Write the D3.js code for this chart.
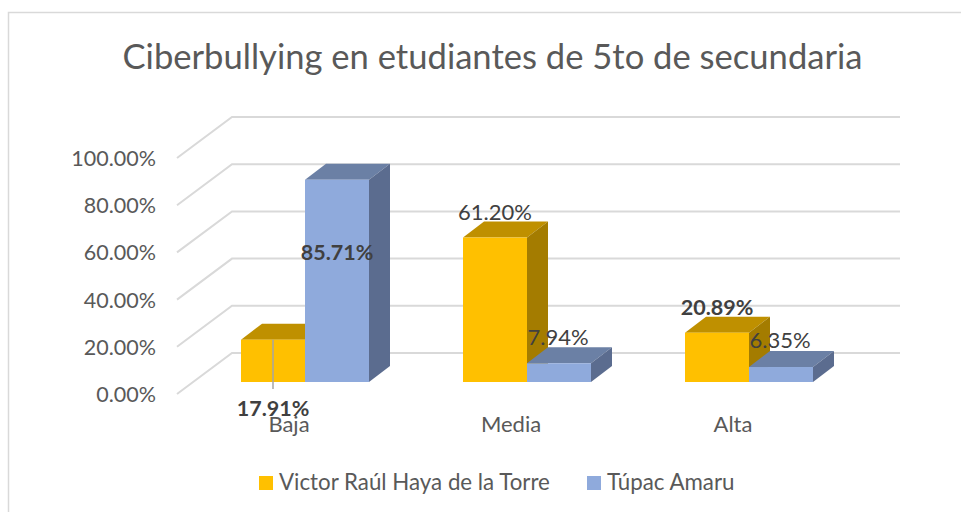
<!DOCTYPE html>
<html><head><meta charset="utf-8">
<script src="https://cdn.jsdelivr.net/npm/d3@7/dist/d3.min.js"></script>
<style>html,body{margin:0;padding:0;background:#fff}svg{display:block}text{font-family:Lato,"Open Sans",sans-serif}</style>
</head><body><svg id="c" width="961" height="512"></svg>
<script>
const titleText = "Ciberbullying en etudiantes de 5to de secundaria";
const categories = ["Baja","Media","Alta"];
const seriesNames = ["Victor Raúl Haya de la Torre","Túpac Amaru"];
const victorValues = [17.91,61.20,20.89];
const tupacValues = [85.71,7.94,6.35];
const tickValues = [0,20,40,60,80,100];
const boldLabels = [["Victor Raúl Haya de la Torre","Baja"],["Victor Raúl Haya de la Torre","Alta"],["Túpac Amaru","Baja"]];

const svg = d3.select("#c");
const INK="#595959", LABEL="#404040", GRID="#d9d9d9";
const colors = {
  [seriesNames[0]]:{front:"#FFC000",top:"#BF9000",side:"#A47C00"},
  [seriesNames[1]]:{front:"#8FAADC",top:"#6B80A5",side:"#5B6C8F"}
};
const floorY=382, depthX=21, depthY=16;
const y = d3.scaleLinear().domain([0,100]).range([floorY,floorY-236]);
const x0 = d3.scaleBand().domain(categories).range([194,860]);
const x1 = d3.scaleBand().domain(seriesNames).range([47,175]);

// chart frame
svg.append("path").attr("d","M8.5,512V12.5H961").attr("fill","none").attr("stroke",GRID).attr("stroke-width",1.5);

svg.append("text").attr("x",492.5).attr("y",69).attr("text-anchor","middle").attr("font-size",34.5)
  .attr("fill",INK).attr("textLength",740).attr("lengthAdjust","spacingAndGlyphs").text(titleText);

// walls: back gridlines and left-wall diagonals
const wallX=177, backX=232, rightX=900, frontDrop=12, backRise=29;
tickValues.forEach(t=>{
  const yb=y(t)-backRise, yf=y(t)+frontDrop;
  svg.append("path").attr("d",`M${wallX},${yf}L${backX},${yb}H${rightX}`)
    .attr("fill","none").attr("stroke",GRID).attr("stroke-width",2);
  svg.append("text").attr("x",156).attr("y",yf+8).attr("text-anchor","end").attr("font-size",21.5)
    .attr("fill",INK).text(d3.format(".2f")(t)+"%");
});

// bars
const rows = categories.flatMap((c,i)=>[
  {c,s:seriesNames[0],v:victorValues[i]},
  {c,s:seriesNames[1],v:tupacValues[i]}
]);
rows.forEach(r=>{
  const l=x0(r.c)+x1(r.s), w=x1.bandwidth(), t=y(r.v), b=y(0), col=colors[r.s];
  const g=svg.append("g");
  g.append("path").attr("fill",col.top).attr("d",`M${l},${t}l${depthX},${-depthY}h${w}l${-depthX},${depthY}z`);
  g.append("path").attr("fill",col.side).attr("d",`M${l+w},${t}l${depthX},${-depthY}V${b-depthY}l${-depthX},${depthY}z`);
  g.append("rect").attr("x",l).attr("y",t).attr("width",w).attr("height",b-t).attr("fill",col.front);
});

// leader line for Baja / Victor
{
  const r=rows[0], cx=x0(r.c)+x1(r.s)+x1.bandwidth()/2;
  svg.append("line").attr("x1",cx).attr("x2",cx).attr("y1",y(r.v)).attr("y2",floorY+7)
    .attr("stroke","#a6a6a6").attr("stroke-width",1.5);
}

// manual data-label placement, relative to each bar's front-face centre / top
function labelPos(r){
  const cx=x0(r.c)+x1(r.s)+x1.bandwidth()/2, t=y(r.v);
  const k=r.c+"|"+seriesNames.indexOf(r.s);
  switch(k){
    case "Baja|0": return [cx,floorY+34];
    case "Baja|1": return [cx,t+80];
    case "Media|0": return [cx,t-18];
    case "Media|1": return [cx-1,t-18];
    case "Alta|0": return [cx,t-18];
    default: return [cx-1,t-19];
  }
}
rows.forEach(r=>{
  const p=labelPos(r);
  const bold=boldLabels.some(b=>b[0]===r.s&&b[1]===r.c);
  svg.append("text").attr("x",p[0]).attr("y",p[1]).attr("text-anchor","middle")
    .attr("font-size",bold?21.5:22).attr("font-weight",bold?700:400).attr("fill",LABEL)
    .text(d3.format(".2f")(r.v)+"%");
});

// category labels
categories.forEach(c=>{
  svg.append("text").attr("x",x0(c)+x0.bandwidth()/2-16).attr("y",432).attr("text-anchor","middle")
    .attr("font-size",22).attr("fill",INK).text(c);
});

// legend
[[259,seriesNames[0]],[587,seriesNames[1]]].forEach(([lx,n])=>{
  svg.append("rect").attr("x",lx).attr("y",476).attr("width",14).attr("height",14).attr("fill",colors[n].front);
  svg.append("text").attr("x",lx+20).attr("y",490).attr("font-size",22.3).attr("fill",INK).text(n);
});
</script></body></html>
